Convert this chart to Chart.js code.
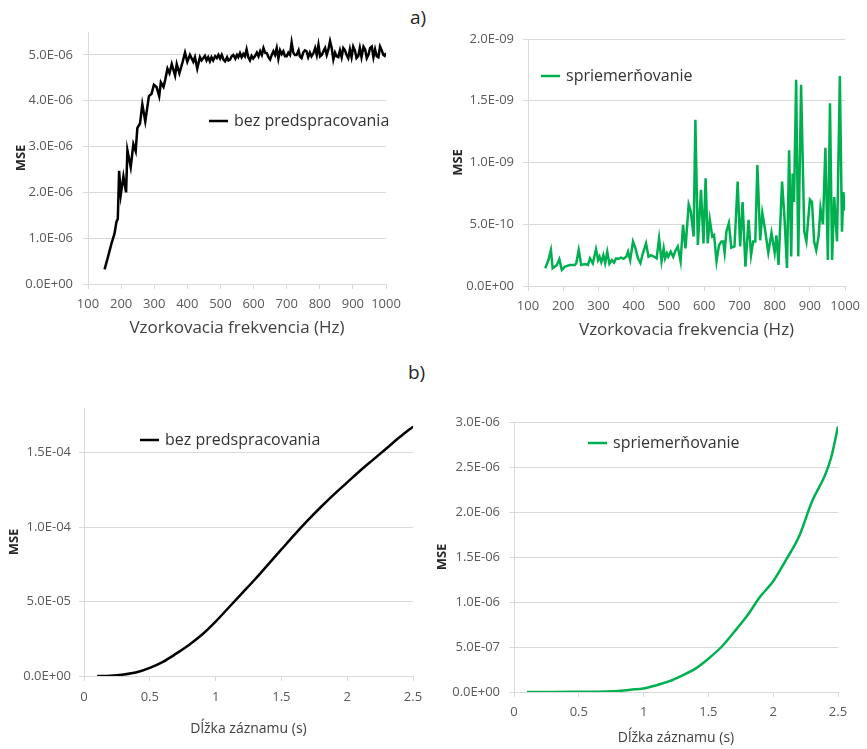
<!DOCTYPE html>
<html>
<head>
<meta charset="utf-8">
<script src="https://cdn.jsdelivr.net/npm/chart.js@4.4.1/dist/chart.umd.min.js"></script>
<style>
  body { margin: 0; background: #fff; font-family: "Open Sans", sans-serif; }
  #page { position: relative; width: 867px; height: 749px; overflow: hidden; }
  canvas { position: absolute; }
  .tag { position: absolute; font-size: 19px; color: #262626; line-height: 26px; }
</style>
</head>
<body>
<div id="page">
  <span class="tag" style="left:410px;top:4px">a)</span>
  <span class="tag" style="left:408px;top:359px">b)</span>
  <canvas id="c1" width="434" height="345" style="left:0;top:0"></canvas>
  <canvas id="c2" width="433" height="345" style="left:434px;top:0"></canvas>
  <canvas id="c3" width="434" height="364" style="left:0;top:385px"></canvas>
  <canvas id="c4" width="433" height="364" style="left:434px;top:385px"></canvas>
</div>
<script>
// a) MSE vs sampling frequency
const freqRaw = [150, 160, 170, 180, 186, 190, 194, 199, 207, 215, 219, 229, 237, 244, 249, 257, 264, 273, 284, 292,
  299, 307, 315, 320, 328, 333, 340, 346, 353, 363, 368, 376, 386, 393, 400, 408, 418, 423, 430, 438,
  443, 448, 453, 458, 463, 468, 473, 478, 484, 489, 494, 499, 504, 509, 514, 520, 524, 529, 534, 539,
  545, 550, 554, 559, 564, 569, 574, 579, 584, 589, 594, 599, 604, 610, 615, 620, 625, 630, 635, 640,
  645, 650, 655, 660, 665, 670, 675, 680, 685, 690, 695, 700, 705, 710, 715, 720, 725, 730, 736, 740,
  745, 750, 755, 760, 765, 770, 775, 781, 786, 791, 796, 801, 806, 811, 816, 821, 826, 831, 836, 841,
  846, 851, 856, 861, 866, 871, 876, 881, 886, 891, 896, 901, 906, 911, 916, 921, 926, 932, 937, 942,
  947, 952, 957, 962, 967, 972, 977, 982, 987, 992, 996, 1000];
// MSE x 1e-6
const mseRaw = [0.32, 0.58, 0.86, 1.10, 1.36, 1.42, 2.47, 1.95, 2.35, 2.0, 2.92, 2.55, 3.05, 2.9, 3.4, 3.5, 3.92, 3.55, 4.1, 4.15,
  4.35, 4.3, 4.1, 4.4, 4.3, 4.45, 4.7, 4.6, 4.8, 4.55, 4.8, 4.6, 4.85, 5.05, 4.85, 5.0, 4.85, 4.95, 4.7, 4.95,
  4.88, 4.93, 4.98, 4.88, 4.95, 4.86, 4.95, 4.88, 4.97, 4.93, 5.0, 4.92, 5.0, 4.9, 4.86, 4.95, 4.88, 4.9, 4.97, 5.0,
  4.92, 5.0, 4.95, 5.04, 4.95, 5.02, 4.97, 5.12, 4.95, 4.88, 4.98, 4.92, 4.97, 5.05, 4.97, 5.08, 5.0, 5.15, 5.05, 5.04,
  4.95, 4.9, 5.0, 5.08, 5.0, 5.15, 4.92, 5.1, 5.02, 5.08, 4.97, 4.97, 5.05, 5.0, 5.27, 5.05, 5.0, 5.0, 5.1, 4.97,
  4.93, 5.05, 5.1, 5.08, 4.95, 5.05, 4.97, 5.04, 5.15, 5.0, 5.22, 4.97, 5.0, 5.08, 5.15, 5.0, 5.12, 5.3, 5.15, 4.9,
  5.05, 4.97, 4.95, 5.1, 4.95, 5.15, 5.1, 5.0, 4.93, 5.12, 4.95, 5.18, 5.1, 4.93, 4.97, 5.15, 4.95, 5.18, 5.12, 4.93,
  5.0, 5.15, 5.18, 4.95, 5.12, 4.97, 4.95, 5.18, 5.1, 5.0, 4.98, 5.04];

const freqAvg = [149, 158, 165, 170, 182, 189, 196, 205, 219, 233, 237, 244, 251, 261, 270, 276, 284, 293, 299, 303,
  308, 314, 319, 325, 331, 338, 344, 350, 356, 364, 371, 379, 384, 390, 398, 405, 412, 419, 426, 435,
  442, 449, 458, 465, 472, 479, 485, 489, 494, 498, 505, 512, 519, 525, 533, 540, 547, 556, 562, 570,
  575, 582, 591, 598, 604, 610, 616, 623, 628, 635, 642, 649, 654, 658, 663, 670, 677, 686, 695, 702,
  709, 717, 726, 733, 739, 745, 751, 759, 765, 772, 782, 791, 800, 805, 811, 821, 828, 835, 841, 847,
  851, 855, 861, 867, 875, 884, 890, 900, 906, 912, 918, 925, 930, 937, 944, 951, 957, 963, 969, 977,
  985, 991, 995, 1000];
// MSE x 1e-10
const mseAvg = [1.43, 2.1, 2.9, 1.43, 1.7, 2.16, 1.3, 1.57, 1.7, 1.7, 1.84, 2.92, 1.7, 1.78, 1.7, 2.24, 1.84, 2.97, 2.1, 2.37,
  1.92, 2.5, 1.86, 2.78, 1.8, 2.1, 1.9, 2.24, 2.2, 2.3, 2.2, 2.37, 2.78, 2.1, 3.6, 3.05, 2.24, 1.86, 2.65, 3.45,
  2.37, 2.5, 2.37, 2.24, 3.86, 2.0, 3.05, 2.24, 2.65, 2.37, 2.78, 2.37, 2.9, 3.2, 2.0, 4.95, 3.05, 6.6, 6.05, 4.0,
  13.45, 3.33, 7.78, 3.45, 8.73, 3.45, 5.35, 4.0, 4.13, 2.0, 3.3, 3.6, 3.6, 2.7, 4.4, 5.1, 3.1, 3.2, 8.45, 3.2,
  6.8, 1.56, 5.35, 2.5, 3.6, 3.6, 9.8, 3.7, 5.9, 4.7, 2.7, 4.3, 2.7, 4.1, 1.7, 8.45, 5.5, 1.46, 11.0, 2.4,
  9.1, 6.8, 16.7, 2.4, 16.3, 4.4, 3.6, 7.0, 6.8, 3.6, 2.9, 4.1, 6.3, 5.0, 11.2, 2.1, 14.8, 2.1, 7.2, 3.6,
  17.0, 4.4, 7.6, 6.1];

// b) MSE vs record length
const lenRaw = [0.1, 0.2, 0.3, 0.4, 0.5, 0.6, 0.7, 0.8, 0.9, 1.0, 1.1, 1.2, 1.3, 1.4, 1.5, 1.6, 1.7, 1.8, 1.9, 2.0, 2.1, 2.2, 2.3, 2.4, 2.5];
// MSE x 1e-5
const mseLenRaw = [0, 0.02, 0.1, 0.25, 0.55, 0.95, 1.5, 2.1, 2.8, 3.65, 4.6, 5.55, 6.5, 7.5, 8.5, 9.5, 10.45, 11.35, 12.2, 13.0, 13.8, 14.55, 15.3, 16.05, 16.75];

const lenAvg = [0.1, 0.3, 0.5, 0.7, 0.8, 0.9, 1.0, 1.1, 1.2, 1.3, 1.4, 1.5, 1.6, 1.7, 1.8, 1.9, 2.0, 2.1, 2.2, 2.3, 2.4, 2.45, 2.5];
// MSE x 1e-7
const mseLenAvg = [0, 0, 0.02, 0.05, 0.1, 0.25, 0.4, 0.75, 1.2, 1.85, 2.6, 3.7, 5.0, 6.7, 8.5, 10.6, 12.3, 14.7, 17.3, 21.2, 24.1, 26.2, 29.5];

const freqTicks = [100, 200, 300, 400, 500, 600, 700, 800, 900, 1000];
const lenTicks = [0, 0.5, 1, 1.5, 2, 2.5];
const yTicksA1 = [0, 1e-6, 2e-6, 3e-6, 4e-6, 5e-6];
const yTicksA2 = [0, 5e-10, 1e-9, 1.5e-9, 2e-9];
const yTicksB1 = [0, 5e-5, 1e-4, 1.5e-4];
const yTicksB2 = [0, 5e-7, 1e-6, 1.5e-6, 2e-6, 2.5e-6, 3e-6];

Chart.defaults.font.family = '"Open Sans", sans-serif';

function sci(v) {
  if (v === 0) return '0.0E+00';
  const [m, e] = v.toExponential(1).split('e');
  const sign = e[0] === '-' ? '-' : '+';
  return m + 'E' + sign + e.replace(/^[+-]/, '').padStart(2, '0');
}

// legend drawn inside the plot, like the original
const inlineLegend = {
  id: 'inlineLegend',
  afterDraw(chart, args, opts) {
    const ds = chart.data.datasets[0];
    const ctx = chart.ctx;
    ctx.save();
    ctx.strokeStyle = ds.borderColor;
    ctx.lineWidth = 2.5;
    ctx.beginPath();
    ctx.moveTo(opts.x, opts.y);
    ctx.lineTo(opts.x + 19, opts.y);
    ctx.stroke();
    ctx.fillStyle = '#333';
    ctx.font = '16px "Open Sans"';
    ctx.textBaseline = 'middle';
    ctx.fillText(ds.label, opts.x + 25, opts.y);
    ctx.restore();
  }
};

function buildChart(id, o) {
  const points = o.xs.map((x, i) => ({ x, y: o.ys[i] * o.unit }));
  return new Chart(document.getElementById(id), {
    type: 'line',
    data: {
      datasets: [{
        label: o.label,
        data: points,
        borderColor: o.color,
        borderWidth: 2.5,
        pointRadius: 0,
        tension: o.smooth ? 0.4 : 0,
        cubicInterpolationMode: o.smooth ? 'monotone' : 'default',
        fill: false,
      }]
    },
    options: {
      responsive: false,
      animation: false,
      layout: { padding: { top: o.padTop, right: o.padRight, left: 0, bottom: 0 } },
      plugins: {
        legend: { display: false },
        tooltip: { enabled: false },
        inlineLegend: o.legendAt,
      },
      scales: {
        x: {
          type: 'linear',
          min: o.xTicks[0],
          max: o.xTicks[o.xTicks.length - 1],
          afterBuildTicks: a => { a.ticks = o.xTicks.map(value => ({ value })); },
          afterFit: a => { a.height = o.xHeight; },
          grid: { drawOnChartArea: false, tickLength: 5, tickColor: '#d9d9d9' },
          border: { color: '#d9d9d9' },
          ticks: { padding: o.xTickPad, color: '#595959', font: { size: 13 }, maxRotation: 0, callback: v => String(v) },
          title: { display: true, text: o.xTitle, color: '#404040', font: { size: o.xTitleSize }, padding: { top: 0, bottom: o.xTitlePad } }
        },
        y: {
          min: 0,
          max: o.yMax,
          afterBuildTicks: a => { a.ticks = o.yTicks.map(value => ({ value })); },
          afterFit: a => { a.width = o.yWidth; },
          grid: { color: '#d9d9d9', tickLength: 5 },
          border: { color: '#d9d9d9' },
          ticks: { padding: o.yTickPad, color: '#595959', font: { size: 13 }, callback: v => sci(v) },
          title: { display: true, text: 'MSE', color: '#262626', font: { size: 13, weight: 'bold' }, padding: { top: o.yTitlePad, bottom: 0 } }
        }
      }
    },
    plugins: [inlineLegend]
  });
}

buildChart('c1', {
  xs: freqRaw, ys: mseRaw, unit: 1e-6, label: 'bez predspracovania', color: '#000000', smooth: false,
  xTicks: freqTicks, yTicks: yTicksA1, yMax: 5.5e-6, xTitle: 'Vzorkovacia frekvencia (Hz)',
  padTop: 32, padRight: 48, yWidth: 88, xHeight: 61, xTickPad: 7, xTitleSize: 17, xTitlePad: 7,
  yTickPad: 10, yTitlePad: 13, legendAt: { x: 209, y: 121 }
});

buildChart('c2', {
  xs: freqAvg, ys: mseAvg, unit: 1e-10, label: 'spriemerňovanie', color: '#00b050', smooth: false,
  xTicks: freqTicks, yTicks: yTicksA2, yMax: 2e-9, xTitle: 'Vzorkovacia frekvencia (Hz)',
  padTop: 39, padRight: 16, yWidth: 94, xHeight: 59, xTickPad: 7, xTitleSize: 17, xTitlePad: 5,
  yTickPad: 9, yTitlePad: 16, legendAt: { x: 107, y: 76 }
});

buildChart('c3', {
  xs: lenRaw, ys: mseLenRaw, unit: 1e-5, label: 'bez predspracovania', color: '#000000', smooth: true,
  xTicks: lenTicks, yTicks: yTicksB1, yMax: 1.8e-4, xTitle: 'Dĺžka záznamu (s)',
  padTop: 23, padRight: 21, yWidth: 84, xHeight: 73, xTickPad: 8, xTitleSize: 14, xTitlePad: 12,
  yTickPad: 8, yTitlePad: 6, legendAt: { x: 140, y: 55 }
});

buildChart('c4', {
  xs: lenAvg, ys: mseLenAvg, unit: 1e-7, label: 'spriemerňovanie', color: '#00b050', smooth: true,
  xTicks: lenTicks, yTicks: yTicksB2, yMax: 3e-6, xTitle: 'Dĺžka záznamu (s)',
  padTop: 37, padRight: 29, yWidth: 80, xHeight: 57, xTickPad: 7, xTitleSize: 14, xTitlePad: 3,
  yTickPad: 9, yTitlePad: 0, legendAt: { x: 154, y: 58 }
});
</script>
</body>
</html>
